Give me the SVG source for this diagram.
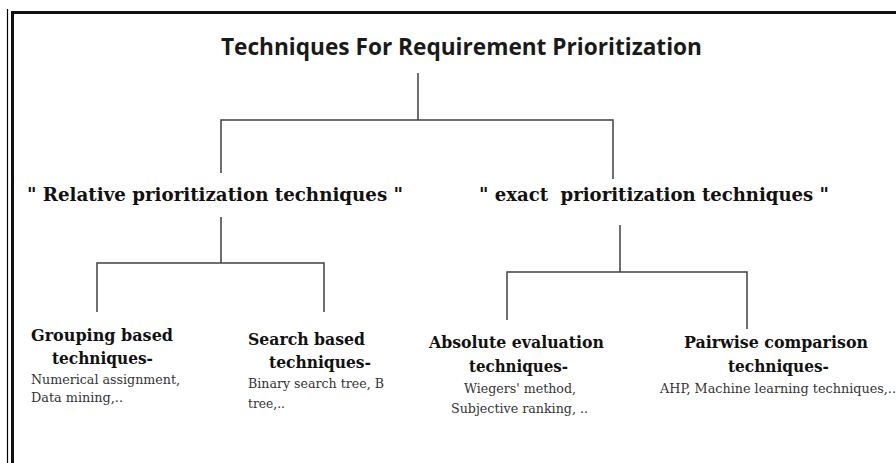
<svg xmlns="http://www.w3.org/2000/svg" width="896" height="463" viewBox="0 0 896 463">
<style>
.title{font-family:"Open Sans","Liberation Sans",sans-serif;font-weight:bold;font-size:24px;fill:#1a1a1a}
.h1{font-family:"DejaVu Serif",serif;font-weight:bold;font-size:18px;fill:#111}
.h2{font-family:"DejaVu Serif",serif;font-weight:bold;font-size:16px;fill:#111}
.d{font-family:"DejaVu Serif",serif;font-size:12px;fill:#333}
.c{fill:none;stroke:#404040;stroke-width:1.5}
</style>
<rect width="896" height="463" fill="#fff"/>
<g id="frame">
<line x1="7.5" y1="9" x2="7.5" y2="463" stroke="#000" stroke-width="1.2"/>
<path d="M12.5 463 V12.5 H896" fill="none" stroke="#111" stroke-width="3"/>
</g>
<g id="connectors">
<path class="c" d="M418 73 V120 M221 173 V120 H613 V179"/>
<path class="c" d="M221 217 V263 M97 312 V263 H324 V312"/>
<path class="c" d="M620 225 V272 M507 320 V272 H747 V329"/>
</g>
<g id="root"><text class="title" x="221" y="55" textLength="481" lengthAdjust="spacingAndGlyphs">Techniques For Requirement Prioritization</text></g>
<g id="relative"><text class="h1" x="27" y="201" textLength="376" lengthAdjust="spacingAndGlyphs">" Relative prioritization techniques "</text></g>
<g id="exact"><text class="h1" x="479" y="201" textLength="350" lengthAdjust="spacingAndGlyphs" xml:space="preserve">" exact  prioritization techniques "</text></g>
<g id="grouping">
<text class="h2" x="31" y="341" textLength="142" lengthAdjust="spacingAndGlyphs">Grouping based</text>
<text class="h2" x="52" y="364" textLength="101" lengthAdjust="spacingAndGlyphs">techniques-</text>
<text class="d" x="31" y="384" textLength="149" lengthAdjust="spacingAndGlyphs">Numerical assignment,</text>
<text class="d" x="31" y="402" textLength="92" lengthAdjust="spacingAndGlyphs">Data mining,..</text>
</g>
<g id="search">
<text class="h2" x="248" y="345" textLength="117" lengthAdjust="spacingAndGlyphs">Search based</text>
<text class="h2" x="269" y="368" textLength="102" lengthAdjust="spacingAndGlyphs">techniques-</text>
<text class="d" x="248" y="388" textLength="136" lengthAdjust="spacingAndGlyphs">Binary search tree, B</text>
<text class="d" x="248" y="408" textLength="37" lengthAdjust="spacingAndGlyphs">tree,..</text>
</g>
<g id="absolute">
<text class="h2" x="429" y="348" textLength="175" lengthAdjust="spacingAndGlyphs">Absolute evaluation</text>
<text class="h2" x="469" y="372" textLength="99" lengthAdjust="spacingAndGlyphs">techniques-</text>
<text class="d" x="464" y="393" textLength="112" lengthAdjust="spacingAndGlyphs">Wiegers' method,</text>
<text class="d" x="451" y="413" textLength="137" lengthAdjust="spacingAndGlyphs">Subjective ranking, ..</text>
</g>
<g id="pairwise">
<text class="h2" x="684" y="348" textLength="184" lengthAdjust="spacingAndGlyphs">Pairwise comparison</text>
<text class="h2" x="728" y="372" textLength="101" lengthAdjust="spacingAndGlyphs">techniques-</text>
<text class="d" x="660" y="393" textLength="236" lengthAdjust="spacingAndGlyphs">AHP, Machine learning techniques,..</text>
</g>
</svg>
